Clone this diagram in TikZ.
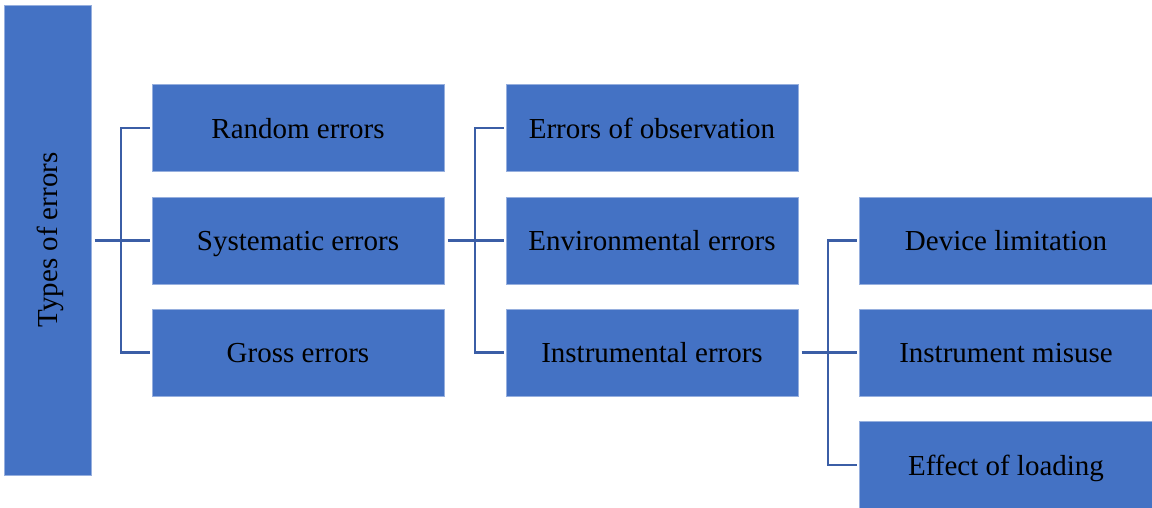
\documentclass[tikz,border=0pt]{standalone}
\usepackage{fontspec}
\setmainfont{Liberation Serif}
\definecolor{boxblue}{RGB}{68,114,196}
\definecolor{boxedge}{RGB}{150,175,222}
\definecolor{linkblue}{RGB}{59,94,166}
\begin{document}
\begin{tikzpicture}[x=1pt,y=-1pt,
  errbox/.style={fill=boxblue,draw=boxedge,line width=1pt,inner sep=0pt,
    font=\fontsize{29}{33}\selectfont,text=black,text height=27pt,text depth=7pt},
  link/.style={draw=linkblue,line width=2.2pt}]
\useasboundingbox (0,0) rectangle (1152,507);
% nodes
\node[errbox,minimum width=87pt,minimum height=470pt] (types) at (47.5,240) {};
\node[rotate=90,inner sep=0pt,font=\fontsize{29}{33}\selectfont,text height=27pt,text depth=7pt] (typeslbl) at (types.center) {Types of errors};
\node[errbox,minimum width=292pt,minimum height=87pt] (random) at (298,128) {Random errors};
\node[errbox,minimum width=292pt,minimum height=87pt] (syst) at (298,240.5) {Systematic errors};
\node[errbox,minimum width=292pt,minimum height=87pt] (gross) at (298,352.5) {Gross errors};
\node[errbox,minimum width=292pt,minimum height=87pt] (obs) at (652,128) {Errors of observation};
\node[errbox,minimum width=292pt,minimum height=87pt] (env) at (652,240.5) {Environmental errors};
\node[errbox,minimum width=292pt,minimum height=87pt] (instr) at (652,352.5) {Instrumental errors};
\node[errbox,minimum width=294pt,minimum height=87pt] (dev) at (1006,240.5) {Device limitation};
\node[errbox,minimum width=294pt,minimum height=87pt] (mis) at (1006,352.5) {Instrument misuse};
\node[errbox,minimum width=294pt,minimum height=87pt] (load) at (1006,465) {Effect of loading};
% connectors
\coordinate (j1) at (121,240.5);
\coordinate (j2) at (475,240.5);
\coordinate (j3) at (828,352.5);
\draw[link] ([xshift=3pt]types.east|-syst.west) -- ([xshift=-2pt]syst.west);
\draw[link] ([xshift=-2pt]random.west) -| (j1) |- ([xshift=-2pt]gross.west);
\draw[link] ([xshift=3pt]syst.east) -- ([xshift=-2pt]env.west);
\draw[link] ([xshift=-2pt]obs.west) -| (j2) |- ([xshift=-2pt]instr.west);
\draw[link] ([xshift=3pt]instr.east) -- ([xshift=-2pt]mis.west);
\draw[link] ([xshift=-2pt]dev.west) -| (j3) |- ([xshift=-2pt]load.west);
\end{tikzpicture}
\end{document}
